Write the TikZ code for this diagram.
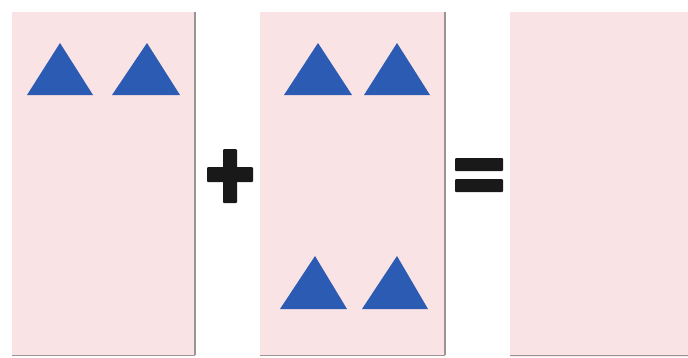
\documentclass[tikz,border=0pt]{standalone}
\definecolor{panelpink}{HTML}{FAE3E4}
\definecolor{triblue}{HTML}{2B5BB2}
\definecolor{edgegrey}{HTML}{9A9494}
\begin{document}
\begin{tikzpicture}[x=1pt,y=-1pt,
  panel/.style={fill=panelpink,draw=none},
  edge/.style={draw=edgegrey,line width=1.6pt},
  tri/.style={fill=triblue,draw=none},
  sign/.style={fill=black!90,draw=none,rounded corners=1pt}]
\useasboundingbox (0,0) rectangle (688,357);
\fill[white] (0,0) rectangle (688,357);
% panels
\fill[panel] (12,12) rectangle (195,355);
\draw[edge] (195,12) -- (195,355);
\draw[edge,line width=1pt] (12,355) -- (195,355);
\fill[panel] (260,12) rectangle (445,355);
\draw[edge] (445,12) -- (445,355);
\draw[edge,line width=1pt] (260,355) -- (445,355);
\fill[panel] (510,12) rectangle (688,357);
\draw[edge,line width=1pt] (510,355) -- (688,355);
% panel 1 triangles
\fill[tri] (27,95) -- (60,43) -- (93,95) -- cycle;
\fill[tri] (112,95) -- (147,43) -- (180,95) -- cycle;
% panel 2 triangles
\fill[tri] (284,95) -- (318,43) -- (352,95) -- cycle;
\fill[tri] (364,95) -- (397,43) -- (430,95) -- cycle;
\fill[tri] (280,309) -- (315,256) -- (347,309) -- cycle;
\fill[tri] (362,309) -- (397,256) -- (428,309) -- cycle;
% plus
\fill[sign] (207,167) rectangle (253,182);
\fill[sign] (223,149) rectangle (237,203);
% equals
\fill[sign] (455,158) rectangle (503,171);
\fill[sign] (455,179) rectangle (503,192);
\end{tikzpicture}
\end{document}
